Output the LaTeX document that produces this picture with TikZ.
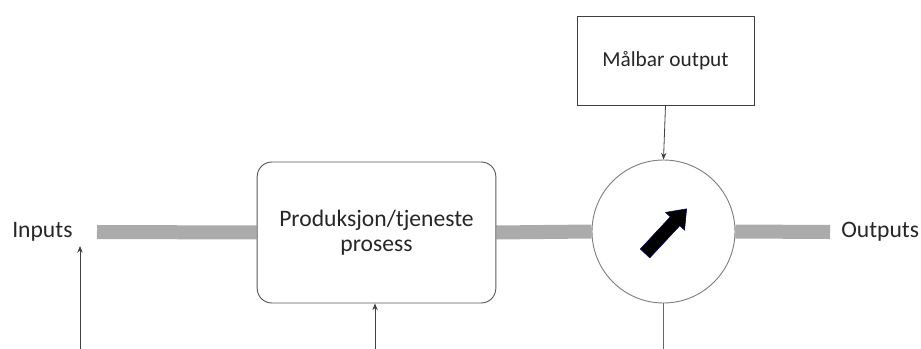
\documentclass[tikz,border=0pt]{standalone}
\usepackage{fontspec}
\setmainfont{Carlito}
\usetikzlibrary{arrows.meta}
\begin{document}
\begin{tikzpicture}[x=0.75pt,y=-0.75pt,
  flow/.style={draw=black!33, line width=10.5pt},
  lbl/.style={font=\fontsize{17.7}{19}\selectfont, text=black!85},
  smalllbl/.style={font=\fontsize{16}{19}\selectfont, text=black!85},
  procbox/.style={draw=black!65, line width=0.7pt, rounded corners=11pt, minimum width=179pt,
    minimum height=105.75pt, align=center, lbl},
  meterc/.style={circle, draw=black!50, line width=0.7pt, minimum size=107.25pt, inner sep=0pt},
  conn/.style={draw=black!75, line width=0.6pt, -{Stealth[length=5pt,width=4pt]}},
  plain/.style={draw=black!60, line width=0.6pt}
]
\useasboundingbox (0,0) rectangle (921,349);
% labels at the ends of the flow
\node[lbl, anchor=west, inner sep=0pt] (in) at (12,232) {Inputs};
\node[lbl, anchor=west, inner sep=0pt] (out) at (841,232) {Outputs};
\coordinate (barL) at (97,232);
\coordinate (barR) at (830,232);
% process box and meter (shapes only, for anchors)
\node[procbox, draw=none] (proc) at (376.5,232.5) {\phantom{Produksjon/tjeneste}\\\phantom{prosess}};
\node[meterc, draw=none] (meter) at (663.5,231.5) {};
% grey flow bars
\draw[flow] (barL) -- (proc.west);
\draw[flow] (proc.east) -- (meter.west);
\draw[flow] (meter.east) -- (barR);
% outlines drawn above the bars
\node[procbox] at (376.5,232.5) {Produksjon/tjeneste\\prosess};
\node[meterc] at (663.5,231.5) {};
% gauge needle
\fill[black, draw=blue!40!black, line width=0.4pt, rotate around={47:(665.5,231.5)}]
  (635.5,225) -- (679.5,225) -- (679.5,218.5) -- (696.5,231.5) -- (679.5,244.5)
  -- (679.5,238) -- (635.5,238) -- cycle;
% measurable output
\node[draw=black!75, line width=0.7pt, minimum width=132.75pt, minimum height=66.75pt, smalllbl] (mal) at (665.5,60.5) {Målbar output};
\draw[conn] (mal.south) -- (meter.north);
% bottom feeds
\coordinate (f1) at (80,349);
\coordinate (f2) at (375,349);
\coordinate (f3) at (663.5,349);
\coordinate (inTip) at (80,246);
\draw[conn] (f1) -- (inTip);
\draw[conn] (f2) -- (proc.south -| f2);
\draw[plain] (meter.south) -- (f3);
\end{tikzpicture}
\end{document}
